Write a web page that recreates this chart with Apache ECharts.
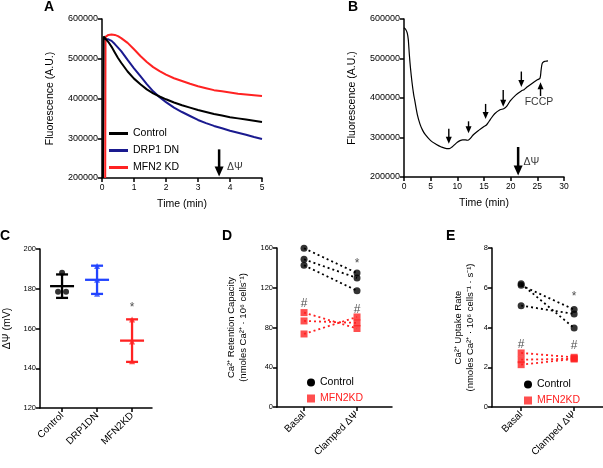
<!DOCTYPE html>
<html><head><meta charset="utf-8">
<script src="https://cdn.jsdelivr.net/npm/echarts@6/dist/echarts.min.js"></script>
<style>html,body{margin:0;padding:0;background:#fff}#c{width:603px;height:468px}</style>
</head><body><div id="c"></div>
<script>
// ---------- Panel A ----------
const timeCtrlA = [0.03, 0.05, 0.1, 0.2, 0.3, 0.4, 0.5, 0.6, 0.8, 1.0, 1.2, 1.4, 1.6, 1.8, 2.0, 2.25, 2.5, 2.75, 3.0, 3.25, 3.5, 3.75, 4.0, 4.25, 4.5, 4.75, 5.0];
const ctrlA = [200000, 556000, 552000, 542000, 530000, 516000, 502000, 490000, 468000, 450000, 436000, 423000, 413000, 405000, 398000, 390000, 383000, 377000, 371000, 366000, 361000, 357000, 353000, 350000, 347000, 344000, 341000];
const timeDrpA = [0.06, 0.1, 0.2, 0.3, 0.4, 0.5, 0.6, 0.8, 1.0, 1.2, 1.4, 1.6, 1.8, 2.0, 2.25, 2.5, 2.75, 3.0, 3.25, 3.5, 3.75, 4.0, 4.25, 4.5, 4.75, 5.0];
const drpA = [549000, 550000, 549000, 545000, 537000, 528000, 519000, 497000, 476000, 456000, 436000, 418000, 403000, 391000, 377000, 366000, 356000, 346000, 338000, 331000, 325000, 319000, 314000, 309000, 303000, 298000];
const timeMfnA = [0.1, 0.11, 0.15, 0.2, 0.3, 0.4, 0.5, 0.6, 0.8, 1.0, 1.2, 1.4, 1.6, 1.8, 2.0, 2.25, 2.5, 2.75, 3.0, 3.25, 3.5, 3.75, 4.0, 4.25, 4.5, 4.75, 5.0];
const mfnA = [200000, 555000, 558000, 560000, 561000, 560000, 557000, 552000, 540000, 524000, 507000, 492000, 479000, 469000, 460000, 451000, 444000, 437000, 431000, 426000, 421000, 418000, 415000, 412000, 410000, 408000, 406000];
const namesA = ['Control', 'DRP1 DN', 'MFN2 KD'];
const arrowA = {t: 3.66, from: 272000, to: 204000};
const psiTextA = {t: 4.15, v: 228000};

// ---------- Panel B ----------
const timeB = [0, 0.3, 0.6, 0.8, 1.0, 1.2, 1.5, 1.8, 2.0, 2.5, 3.0, 3.5, 4.0, 5.0, 6.0, 7.0, 8.0, 8.5, 9.0, 9.5, 10.0, 10.5, 11.0, 11.5, 12.0, 12.3, 12.7, 13.0, 14.0, 15.0, 15.4, 15.8, 16.2, 17.0, 18.0, 18.7, 19.2, 19.6, 20.0, 21.0, 22.0, 22.5, 23.0, 24.0, 25.0, 25.5, 25.7, 25.9, 26.2, 26.5, 27.0];
const fluorB = [578000, 574000, 565000, 548000, 510000, 478000, 440000, 410000, 395000, 358000, 334000, 318000, 307000, 292000, 283000, 276000, 272000, 272000, 276000, 282000, 288000, 292000, 294000, 294000, 293000, 296000, 302000, 307000, 318000, 328000, 331000, 338000, 346000, 360000, 370000, 373000, 378000, 386000, 394000, 408000, 418000, 421000, 427000, 437000, 446000, 450000, 470000, 487000, 492000, 493000, 494000];
const arrowTimesB = [8.4, 12.1, 15.3, 18.6, 22.0];
const arrowTopsB = [322000, 341000, 385000, 420000, 467000];
const arrowTipsB = [284000, 311000, 347000, 378000, 428000];
const fccpArrow = {t: 25.6, from: 405000, to: 440000};
const fccpText = {t: 25.3, v: 389000};
const arrowB = {t: 21.4, from: 276000, to: 204000};
const psiTextB = {t: 23.9, v: 237000};

// ---------- Panel C ----------
const catsC = ['Control', 'DRP1DN', 'MFN2KD'];
const meanC = [181.3, 184.5, 153.9];
const sdC = [5.9, 7.1, 10.7];
const pointsCtrlC = [188, 178.5, 178.5];
const pointsDrpC = [191.5, 184.5, 177.5];
const pointsMfnC = [164.5, 153.5, 143.5];
const starC = {x: 2, v: 170.5};

// ---------- Panel D ----------
const catsDE = ['Basal', 'Clamped ΔΨ'];
const ctrlBasalD = [159.7, 148.6, 142.6];
const ctrlClampD = [134.8, 129.8, 117.0];
const mfnBasalD = [95.0, 86.6, 73.5];
const mfnClampD = [79.0, 84.6, 90.6];
const starD = {x: 1, v: 144};
const hashD = [{x: 0, v: 104}, {x: 1, v: 98}];

// ---------- Panel E ----------
const ctrlBasalE = [6.2, 6.12, 5.1];
const ctrlClampE = [3.97, 4.9, 4.68];
const mfnBasalE = [2.72, 2.38, 2.13];
const mfnClampE = [2.5, 2.43, 2.42];
const starE = {x: 1, v: 5.55};
const hashE = [{x: 0, v: 3.15}, {x: 1, v: 3.1}];

// ---------- styling ----------
const F = "'Liberation Sans', Arial, Helvetica, sans-serif";
const BLACK = '#000000', NAVY = '#1a1a8f', RED = '#ff2222', BLUE = '#2244ff';

function yAx(g, min, max, interval, name, nameGap, fs, lfs) {
  return {
    type: 'value', gridIndex: g, min: min, max: max, interval: interval,
    name: name, nameLocation: 'middle', nameGap: nameGap,
    nameTextStyle: {color: BLACK, fontFamily: F, fontSize: fs || 10.5, lineHeight: 12},
    axisLine: {show: true, onZero: false, lineStyle: {color: BLACK, width: 1.5}},
    axisTick: {show: true, length: 4, lineStyle: {color: BLACK, width: 1.5}},
    splitLine: {show: false},
    axisLabel: {color: BLACK, fontFamily: F, fontSize: lfs || 7.5, margin: 4, formatter: v => String(v)}
  };
}
function xVal(g, min, max, interval, name) {
  return {
    type: 'value', gridIndex: g, min: min, max: max, interval: interval,
    name: name, nameLocation: 'middle', nameGap: 21,
    nameTextStyle: {color: BLACK, fontFamily: F, fontSize: 10.5},
    axisLine: {show: true, onZero: false, lineStyle: {color: BLACK, width: 1.5}},
    axisTick: {show: true, length: 4, lineStyle: {color: BLACK, width: 1.5}},
    splitLine: {show: false},
    axisLabel: {color: BLACK, fontFamily: F, fontSize: 8.5, margin: 5, formatter: v => String(v)}
  };
}
function xCat(g, min, max, cats) {
  const cv = cats.map((c, i) => i);
  return {
    type: 'value', gridIndex: g, min: min, max: max,
    axisLine: {show: true, onZero: false, lineStyle: {color: BLACK, width: 1.5}},
    axisTick: {show: true, length: 4, customValues: cv, lineStyle: {color: BLACK, width: 1.5}},
    splitLine: {show: false},
    axisLabel: {color: BLACK, fontFamily: F, fontSize: 10, rotate: 45, margin: 6,
      customValues: cv, formatter: v => cats[Math.round(v)]}
  };
}
function pairs(ts, vs) { return ts.map((t, i) => [t, vs[i]]); }
function textSeries(x, y, items, color, fs) {
  return {
    type: 'scatter', xAxisIndex: x, yAxisIndex: y, symbolSize: 0, silent: true, z: 6,
    data: items.map(it => ({value: [it.x, it.v], label: {show: true, formatter: it.text, position: 'inside',
      color: color || BLACK, fontFamily: F, fontSize: fs || 11}}))
  };
}
// vertical arrows drawn through the axis scales: data [t, from, to]
function arrowSeries(g, items, width, headW, headL) {
  return {
    type: 'custom', xAxisIndex: g, yAxisIndex: g, silent: true, z: 5,
    data: items,
    renderItem: function (params, api) {
      const a = api.coord([api.value(0), api.value(1)]);
      const b = api.coord([api.value(0), api.value(2)]);
      const dir = b[1] > a[1] ? 1 : -1;
      const baseY = b[1] - dir * headL;
      return {type: 'group', children: [
        {type: 'line', shape: {x1: a[0], y1: a[1], x2: b[0], y2: baseY + dir * 1}, style: {stroke: BLACK, lineWidth: width}},
        {type: 'polygon', shape: {points: [[b[0] - headW / 2, baseY], [b[0] + headW / 2, baseY], [b[0], b[1]]]}, style: {fill: BLACK}}
      ]};
    }
  };
}

const series = [];
// Panel A curves
series.push({name: namesA[0], type: 'line', xAxisIndex: 0, yAxisIndex: 0, data: pairs(timeCtrlA, ctrlA), showSymbol: false, lineStyle: {color: BLACK, width: 2}, itemStyle: {color: BLACK}, z: 3});
series.push({name: namesA[1], type: 'line', xAxisIndex: 0, yAxisIndex: 0, data: pairs(timeDrpA, drpA), showSymbol: false, lineStyle: {color: NAVY, width: 2}, itemStyle: {color: NAVY}, z: 2});
series.push({name: namesA[2], type: 'line', xAxisIndex: 0, yAxisIndex: 0, data: pairs(timeMfnA, mfnA), showSymbol: false, lineStyle: {color: RED, width: 2}, itemStyle: {color: RED}, z: 2});
series.push(arrowSeries(0, [[arrowA.t, arrowA.from, arrowA.to]], 2.5, 9, 10));
series.push(textSeries(0, 0, [{x: psiTextA.t, v: psiTextA.v, text: 'ΔΨ'}], BLACK, 10.5));

// Panel B
series.push({type: 'line', xAxisIndex: 1, yAxisIndex: 1, data: pairs(timeB, fluorB), showSymbol: false, smooth: 0.3, lineStyle: {color: BLACK, width: 1.2}, itemStyle: {color: BLACK}});
series.push(arrowSeries(1, arrowTimesB.map((t, i) => [t, arrowTopsB[i], arrowTipsB[i]]).concat([[fccpArrow.t, fccpArrow.from, fccpArrow.to]]), 1.4, 6, 7));
series.push(arrowSeries(1, [[arrowB.t, arrowB.from, arrowB.to]], 2.5, 9, 10));
series.push(textSeries(1, 1, [{x: fccpText.t, v: fccpText.v, text: 'FCCP'}, {x: psiTextB.t, v: psiTextB.v, text: 'ΔΨ'}], BLACK, 10.5));

// Panel C
const colorsC = [BLACK, BLUE, RED];
series.push({
  type: 'custom', xAxisIndex: 2, yAxisIndex: 2, z: 3,
  data: meanC.map((m, i) => [i, m, sdC[i]]),
  renderItem: function (params, api) {
    const x = api.value(0), m = api.value(1), s = api.value(2);
    const c = api.coord([x, m]), hi = api.coord([x, m + s]), lo = api.coord([x, m - s]);
    const st = {stroke: colorsC[params.dataIndex], lineWidth: 2.3};
    return {type: 'group', children: [
      {type: 'line', shape: {x1: c[0] - 12, y1: c[1], x2: c[0] + 12, y2: c[1]}, style: st},
      {type: 'line', shape: {x1: hi[0], y1: hi[1], x2: lo[0], y2: lo[1]}, style: st},
      {type: 'line', shape: {x1: hi[0] - 6, y1: hi[1], x2: hi[0] + 6, y2: hi[1]}, style: st},
      {type: 'line', shape: {x1: lo[0] - 6, y1: lo[1], x2: lo[0] + 6, y2: lo[1]}, style: st}
    ]};
  }
});
series.push({type: 'scatter', xAxisIndex: 2, yAxisIndex: 2, symbol: 'circle', symbolSize: 6, itemStyle: {color: BLACK},
  data: pointsCtrlC.map((v, i) => ({value: [0, v], symbolOffset: [[0, 0], [-4, 0], [4, 0]][i]}))});
series.push({type: 'scatter', xAxisIndex: 2, yAxisIndex: 2, symbol: 'triangle', symbolSize: 6, itemStyle: {color: BLUE},
  data: pointsDrpC.map(v => [1, v])});
series.push({type: 'scatter', xAxisIndex: 2, yAxisIndex: 2, symbol: 'triangle', symbolSize: 6, itemStyle: {color: RED},
  data: pointsMfnC.map(v => [2, v])});
series.push(textSeries(2, 2, [{x: starC.x, v: starC.v, text: '*'}], '#222', 12));

// Panels D & E
function pairedPanel(g, cb, cc, mb, mc, star, hashes) {
  for (let i = 0; i < cb.length; i++) {
    series.push({type: 'line', xAxisIndex: g, yAxisIndex: g, data: [[0, cb[i]], [1, cc[i]]], showSymbol: false, silent: true,
      lineStyle: {color: BLACK, width: 1.8, type: [2, 3]}});
  }
  for (let i = 0; i < mb.length; i++) {
    series.push({type: 'line', xAxisIndex: g, yAxisIndex: g, data: [[0, mb[i]], [1, mc[i]]], showSymbol: false, silent: true,
      lineStyle: {color: RED, width: 1.8, type: [2, 3]}});
  }
  series.push({name: 'Control', type: 'scatter', xAxisIndex: g, yAxisIndex: g, symbol: 'circle', symbolSize: 7, itemStyle: {color: BLACK}, z: 4,
    data: cb.map(v => [0, v]).concat(cc.map(v => [1, v]))});
  series.push({name: 'MFN2KD', type: 'scatter', xAxisIndex: g, yAxisIndex: g, symbol: 'rect', symbolSize: 7, itemStyle: {color: RED}, z: 4,
    data: mb.map(v => [0, v]).concat(mc.map(v => [1, v]))});
  series.push(textSeries(g, g, [{x: star.x, v: star.v, text: '*'}], '#222', 12));
  series.push(textSeries(g, g, hashes.map(h => ({x: h.x, v: h.v, text: '#'})), '#222', 12));
}
pairedPanel(3, ctrlBasalD, ctrlClampD, mfnBasalD, mfnClampD, starD, hashD);
pairedPanel(4, ctrlBasalE, ctrlClampE, mfnBasalE, mfnClampE, starE, hashE);

const legendDE = (left, top) => ({
  left: left, top: top, orient: 'vertical', padding: 0, itemGap: 5, itemWidth: 8, itemHeight: 8, selectedMode: false,
  textStyle: {fontFamily: F, fontSize: 10.5, color: BLACK},
  data: [{name: 'Control', icon: 'circle', itemStyle: {color: BLACK}},
         {name: 'MFN2KD', icon: 'rect', itemStyle: {color: RED}, textStyle: {color: RED}}]
});

const option = {
  animation: false,
  backgroundColor: '#fff',
  textStyle: {fontFamily: F},
  grid: [
    {left: 102, top: 19, width: 160, height: 159, outerBoundsMode: 'none'},
    {left: 404, top: 19, width: 160, height: 158, outerBoundsMode: 'none'},
    {left: 40, top: 249, width: 112, height: 159, outerBoundsMode: 'none'},
    {left: 277, top: 248, width: 115, height: 159, outerBoundsMode: 'none'},
    {left: 492, top: 248, width: 115, height: 159, outerBoundsMode: 'none'}
  ],
  xAxis: [
    xVal(0, 0, 5, 1, 'Time (min)'),
    xVal(1, 0, 30, 5, 'Time (min)'),
    xCat(2, -0.63, 2.57, catsC),
    xCat(3, -0.51, 1.66, catsDE),
    xCat(4, -0.55, 1.62, catsDE)
  ],
  yAxis: [
    yAx(0, 200000, 600000, 100000, 'Fluorescence (A.U.)', 46, 10.5, 9),
    yAx(1, 200000, 600000, 100000, 'Fluorescence (A.U.)', 46, 10.5, 9),
    yAx(2, 120, 200, 20, 'ΔΨ (mV)', 27),
    yAx(3, 0, 160, 40, 'Ca²⁺ Retention Capacity\n(nmoles Ca²⁺ · 10⁶ cells⁻¹)', 28, 9.5),
    yAx(4, 0, 8, 2, 'Ca²⁺ Uptake Rate\n(nmoles Ca²⁺ · 10⁶ cells⁻¹ · s⁻¹)', 16, 9.5)
  ],
  legend: [
    {left: 109, top: 128, orient: 'vertical', padding: 0, itemGap: 6, itemWidth: 19, itemHeight: 3, icon: 'rect', selectedMode: false,
      textStyle: {fontFamily: F, fontSize: 10.5, color: BLACK}, data: namesA},
    legendDE(307, 377),
    legendDE(524, 379)
  ],
  graphic: [
    {type: 'text', left: 44, top: 0, style: {text: 'A', font: 'bold 14px ' + F, fill: BLACK}},
    {type: 'text', left: 348, top: 0, style: {text: 'B', font: 'bold 14px ' + F, fill: BLACK}},
    {type: 'text', left: 0, top: 229, style: {text: 'C', font: 'bold 14px ' + F, fill: BLACK}},
    {type: 'text', left: 222, top: 229, style: {text: 'D', font: 'bold 14px ' + F, fill: BLACK}},
    {type: 'text', left: 446, top: 229, style: {text: 'E', font: 'bold 14px ' + F, fill: BLACK}}
  ],
  series: series
};
const chart = echarts.init(document.getElementById('c'), null, {renderer: 'canvas'});
chart.setOption(option);
</script></body></html>
